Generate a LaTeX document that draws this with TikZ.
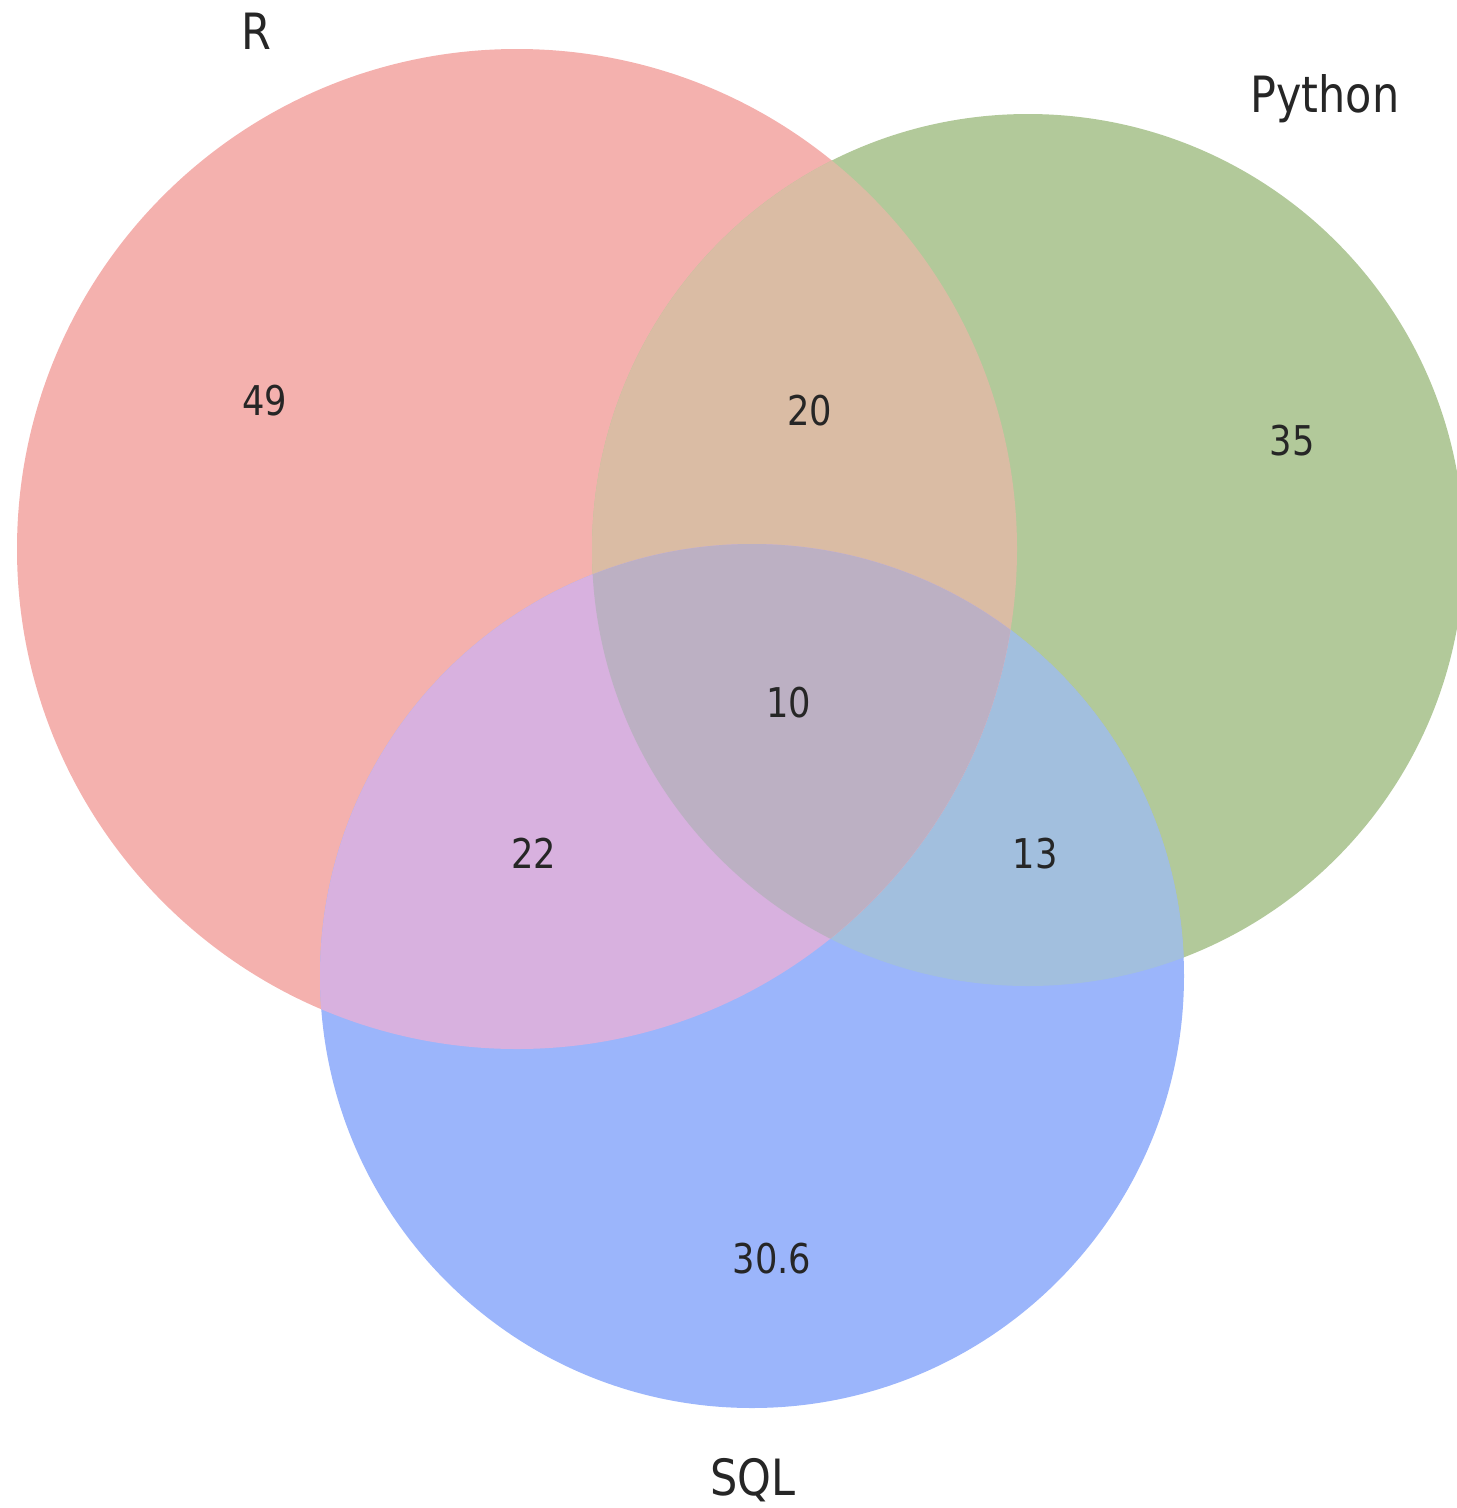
\documentclass[tikz,border=0pt]{standalone}
\usepackage{fontspec}
\setmainfont{DejaVu Sans}
\newfontfamily\vennfont[FakeStretch=0.86]{DejaVu Sans}
\definecolor{cR}{HTML}{F4B1AE}
\definecolor{cP}{HTML}{B2C99A}
\definecolor{cS}{HTML}{9BB5FB}
\definecolor{cRP}{HTML}{DABCA4}
\definecolor{cRS}{HTML}{D8B1DF}
\definecolor{cPS}{HTML}{A2BFDE}
\definecolor{cRPS}{HTML}{BCB0C3}
\tikzset{
  num/.style={anchor=base, font=\vennfont\fontsize{41}{41}\selectfont, text=black!85},
  setlabel/.style={anchor=base, font=\vennfont\fontsize{50}{50}\selectfont, text=black!85}
}
\begin{document}
\begin{tikzpicture}[x=1pt,y=-1pt]
\useasboundingbox (0,0) rectangle (1457,1508);
\begin{scope}
\clip (0,0) rectangle (1457,1508);
\coordinate (cr) at (517,549);
\coordinate (cp) at (1028,550);
\coordinate (cs) at (752,976);
\def\rR{500}\def\rP{436}\def\rS{432}
\fill[cR] (cr) circle (\rR);
\fill[cP] (cp) circle (\rP);
\fill[cS] (cs) circle (\rS);
\begin{scope}
  \clip (cp) circle (\rP);
  \fill[cPS] (cs) circle (\rS);
\end{scope}
\begin{scope}
  \clip (cr) circle (\rR);
  \fill[cRP] (cp) circle (\rP);
  \fill[cRS] (cs) circle (\rS);
  \clip (cp) circle (\rP);
  \fill[cRPS] (cs) circle (\rS);
\end{scope}
\end{scope}
\node[setlabel] (lR) at (256,49) {R};
\node[setlabel] (lP) at (1325,112) {Python};
\node[setlabel] (lS) at (753,1495) {SQL};
\node[num] (n49) at (265,415) {49};
\node[num] (n20) at (810,425) {20};
\node[num] (n35) at (1292,455) {35};
\node[num] (n10) at (789,717) {10};
\node[num] (n22) at (534,868) {22};
\node[num] (n13) at (1035,868) {13};
\node[num] (n306) at (772,1273) {30.6};
\end{tikzpicture}
\end{document}
